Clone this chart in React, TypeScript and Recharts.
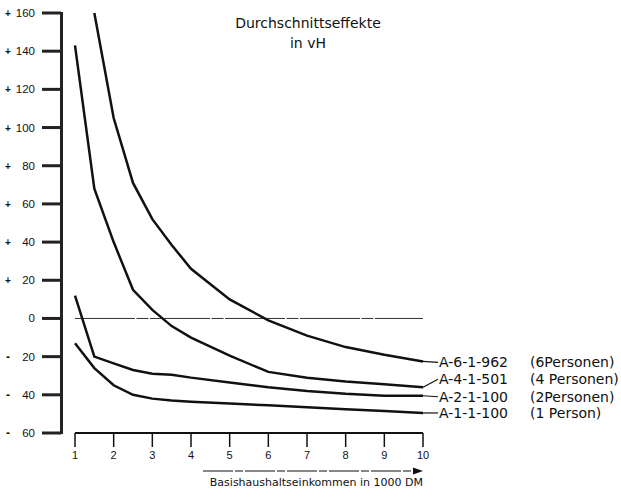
import { LineChart, Line, XAxis, YAxis, ReferenceLine, ReferenceDot } from "recharts";

// Basishaushaltseinkommen in 1000 DM
const incomes = [1, 1.5, 2, 2.5, 3, 3.5, 4, 5, 6, 7, 8, 9, 10];
const xTicks = [1, 2, 3, 4, 5, 6, 7, 8, 9, 10];
const yTicks = [-60, -40, -20, 0, 20, 40, 60, 80, 100, 120, 140, 160];

// Durchschnittseffekte in vH
const a6 = [null, 160, 105, 71, 52, 38.5, 26, 10, -1, -9, -15, -19, -22.5];
const a4 = [143, 68, 40, 15, 4.5, -4, -10, -19.5, -28, -31, -33, -34.5, -36];
const a2 = [12, -20, -23.5, -27, -29, -29.5, -31, -33.5, -36, -38, -39.5, -40.5, -40.5];
const a1 = [-13, -26, -35, -40, -42, -43, -43.6, -44.6, -45.5, -46.5, -47.5, -48.5, -49.5];

const seriesKeys = ["a6", "a4", "a2", "a1"];
const seriesNames = ["A-6-1-962", "A-4-1-501", "A-2-1-100", "A-1-1-100"];
const seriesPersons = ["(6Personen)", "(4 Personen)", "(2Personen)", "(1 Person)"];
const seriesValues = [a6, a4, a2, a1];

const labelShift = [1, -8, 1, 0];

const FONT = "'DejaVu Sans', sans-serif";
const TICK_FONT = "'Liberation Sans', Arial, sans-serif";
const INK = "#111";

const rows = incomes.map((x, i) => ({
  x,
  a6: a6[i],
  a4: a4[i],
  a2: a2[i],
  a1: a1[i],
}));

// y ticks: sign at far left, number right-aligned, tick mark up to the axis
function YTick(props: any) {
  const { y, payload } = props;
  const v = payload.value as number;
  const sign = v > 0 ? "+" : v < 0 ? "-" : "";
  return (
    <g>
      <rect x={42} y={y - 1.5} width={19} height={3} fill="#222" />
      {sign && (
        <text x={8} y={y} dy={4} textAnchor="middle" fontSize={v > 0 ? 10 : 12} fontWeight="bold" fontFamily={TICK_FONT} fill={INK}>
          {sign}
        </text>
      )}
      <text x={35} y={y} dy={4} textAnchor="end" fontSize={11.5} fontFamily={TICK_FONT} fill={INK}>
        {Math.abs(v)}
      </text>
    </g>
  );
}

function YAxisLine(props: any) {
  const { viewBox } = props;
  return <rect x={viewBox.x + viewBox.width - 1} y={viewBox.y - 1} width={3} height={viewBox.height + 2} fill="#222" />;
}

function AxisArrow(props: any) {
  const { viewBox } = props;
  const right = viewBox.x + viewBox.width;
  const ay = viewBox.y + 38;
  return (
    <g>
      <line x1={right - 220} y1={ay} x2={right - 8} y2={ay} stroke={INK} strokeWidth={1} strokeDasharray="30 2 8 2" />
      <polygon points={`${right},${ay} ${right - 10},${ay - 3.5} ${right - 10},${ay + 3.5}`} fill={INK} />
      <text x={right} y={ay + 15} textAnchor="end" fontSize={11} fontFamily={FONT} fill={INK}>
        Basishaushaltseinkommen in 1000 DM
      </text>
    </g>
  );
}

function endLabel(i: number) {
  return (props: any) => {
    const { viewBox } = props;
    const px = viewBox.x + (viewBox.width || 0) / 2;
    const py = viewBox.y + (viewBox.height || 0) / 2;
    const ly = py + labelShift[i];
    return (
      <g>
        <line x1={px} y1={py} x2={px + 15} y2={ly} stroke={INK} strokeWidth={1.2} />
        <text x={px + 16} y={ly} dy={5} fontSize={14} fontFamily={FONT} fill={INK}>
          {seriesNames[i]}
        </text>
        <text x={px + 107} y={ly} dy={5} fontSize={14} fontFamily={FONT} fill={INK}>
          {seriesPersons[i]}
        </text>
      </g>
    );
  };
}

export default function App() {
  const last = incomes.length - 1;
  return (
    <div style={{ position: "absolute", left: 0, top: 0, width: 621, height: 502, background: "#fff" }}>
      <div
        style={{
          position: "absolute",
          left: 208,
          width: 200,
          top: 13,
          textAlign: "center",
          fontFamily: FONT,
          fontSize: 14,
          lineHeight: "20px",
          color: INK,
        }}
      >
        Durchschnittseffekte
        <br />
        in vH
      </div>
      <LineChart width={621} height={502} data={rows} margin={{ top: 13, right: 198, bottom: 39, left: 0 }}>
        <XAxis
          dataKey="x"
          type="number"
          domain={[1, 10]}
          ticks={xTicks}
          interval={0}
          padding={{ left: 14, right: 0 }}
          axisLine={false}
          tickLine={{ stroke: INK, strokeWidth: 1.5 }}
          tickSize={14}
          tickMargin={4}
          tick={{ fill: INK, fontSize: 11, fontFamily: TICK_FONT }}
          height={30}
          label={<AxisArrow />}
        />
        <YAxis
          type="number"
          domain={[-60, 160]}
          ticks={yTicks}
          interval={0}
          width={61}
          axisLine={false}
          tickLine={false}
          tick={<YTick />}
          label={<YAxisLine />}
        />
        <ReferenceLine
          segment={[{ x: 1, y: 0 }, { x: 10, y: 0 }]}
          stroke="#333"
          strokeWidth={1}
          strokeDasharray="60 1.5 12 1.5"
        />
        <ReferenceLine
          segment={[{ x: 1, y: -60 }, { x: 10, y: -60 }]}
          stroke={INK}
          strokeWidth={2}
          ifOverflow="visible"
        />
        {seriesKeys.map((k) => (
          <Line
            key={k}
            type="linear"
            dataKey={k}
            stroke={INK}
            strokeWidth={2.5}
            dot={false}
            activeDot={false}
            isAnimationActive={false}
          />
        ))}
        {seriesKeys.map((k, i) => (
          <ReferenceDot
            key={`lab-${k}`}
            x={incomes[last]}
            y={seriesValues[i][last] as number}
            r={0}
            fill="none"
            stroke="none"
            ifOverflow="visible"
            label={endLabel(i)}
          />
        ))}
      </LineChart>
    </div>
  );
}
